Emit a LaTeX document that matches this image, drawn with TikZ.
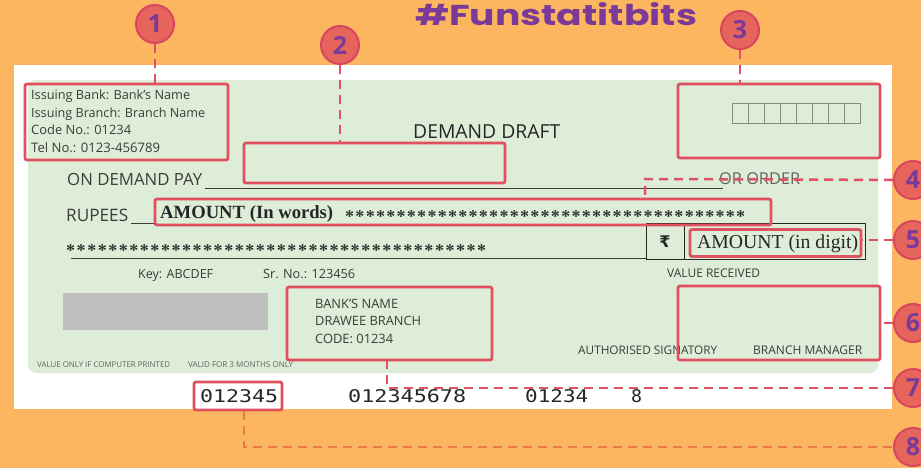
\documentclass[tikz,border=0pt]{standalone}
\usepackage{fontspec}
\usepackage{graphicx}
\setmainfont{Open Sans}
\newfontfamily\serf{Liberation Serif}
\newfontfamily\micr{DejaVu Sans Mono}
\newfontfamily\djv{DejaVu Sans}
\newfontfamily\pop{Poppins}
\newcommand\fw[2]{\resizebox{#1pt}{!}{#2}}
\newcommand\fwh[3]{\resizebox{#1pt}{#2pt}{#3}}
\definecolor{bgorange}{HTML}{FCB660}
\definecolor{chkgreen}{HTML}{DDEDD7}
\definecolor{redbx}{HTML}{E0505F}
\definecolor{connred}{HTML}{E25066}
\definecolor{connorange}{HTML}{EC7A48}
\definecolor{badgefill}{HTML}{E5645C}
\definecolor{badgering}{HTML}{D8465E}
\definecolor{purp}{HTML}{7B3A98}
\definecolor{inkgray}{HTML}{3C3C3C}
\definecolor{cellgray}{HTML}{7F8F7F}
\tikzset{
  txt/.style={inner sep=0pt, text=inkgray, anchor=base west},
  redbox/.style={draw=redbx, line width=2.8pt, rounded corners=2pt, inner sep=0pt},
  badge/.style={circle, fill=badgefill, draw=badgering, line width=2pt, minimum size=38pt, inner sep=0pt, text=purp, font=\fontsize{25}{25}\selectfont\bfseries},
  conn/.style={draw=connred, line width=2.5pt, dash pattern=on 9pt off 6pt},
  conneight/.style={draw=connorange, line width=2.5pt, dash pattern=on 9pt off 6pt},
  thinline/.style={draw=inkgray, line width=0.8pt},
  cell/.style={draw=cellgray, line width=0.8pt},
}
\begin{document}
\begin{tikzpicture}[x=1pt,y=-1pt]
\fill[bgorange] (0,0) rectangle (921,468);
\useasboundingbox (0,0) rectangle (921,468);
\clip (0,0) rectangle (921,468);
% cheque
\fill[white] (14,65) rectangle (892,409);
\fill[chkgreen, rounded corners=8pt] (28,80) rectangle (878,373);

% title
\node[inner sep=0pt, anchor=base west, text=purp] (title) at (415,26) {\fwh{282}{23}{\pop\bfseries\#Funstatitbits}};

% box 1 text
\node[txt] (i1) at (31,100) {\fw{159}{Issuing Bank: Bank's Name}};
\node[txt] (i2) at (31,118) {\fw{174}{Issuing Branch: Branch Name}};
\node[txt] (i3) at (31,135) {\fw{100}{Code No.: 01234}};
\node[txt] (i4) at (31,153) {\fw{129}{Tel No.: 0123-456789}};

\node[txt, text=black!85] (dd) at (413,139) {\fw{147}{DEMAND DRAFT}};

% date cells
\foreach \i in {0,...,7} \draw[cell] (732+\i*16,103) rectangle ++(16,20);

% pay line
\node[txt] (pay) at (67,185) {\fw{135}{ON DEMAND PAY}};
\coordinate (pl1) at (205,188);
\coordinate (pl2) at (723,188);
\draw[thinline] (pl1) -- (pl2);
\node[txt, text=inkgray!80] (ord) at (719,185) {\fw{81}{OR ORDER}};

% rupees
\node[txt] (rup) at (66,222) {\fw{62}{RUPEES}};
\coordinate (rl1) at (131,223);
\coordinate (rl2) at (157,223);
\draw[thinline] (rl1) -- (rl2);
\node[txt, text=black!85] (aw) at (160,218) {\fw{173}{\serf\bfseries AMOUNT (In words)}};
\node[txt, text=black!80] (ast1) at (345,222) {\hbox to 400pt{\fontsize{18}{18}\selectfont\serf\bfseries\foreach \i in {1,...,38}{*\hfil}*}};
\node[txt, text=black!80] (ast2) at (66,256) {\hbox to 420pt{\fontsize{18}{18}\selectfont\serf\bfseries\foreach \i in {1,...,39}{*\hfil}*}};
\coordinate (al1) at (71,258);
\coordinate (al2) at (646,258);
\draw[thinline] (al1) -- (al2);

% amount in digit box
\node[draw=black!85, line width=1pt, minimum width=219pt, minimum height=36pt, inner sep=0pt] (digbox) at (755.5,241) {};
\coordinate (dv1) at (684,223);
\coordinate (dv2) at (684,259);
\draw[draw=black!85, line width=1pt] (dv1) -- (dv2);
\node[inner sep=0pt, text=black!85] (rs) at (665,242) {\fontsize{16}{16}\selectfont\djv\bfseries ₹};
\node[txt, text=black!85] (ad) at (697,248) {\fw{161}{\serf AMOUNT (in digit)}};

% key line
\node[txt] (key) at (138,278) {\fw{75}{Key: ABCDEF}};
\node[txt] (sr) at (263,278) {\fw{92}{Sr. No.: 123456}};
\node[txt] (vr) at (667,277) {\fw{93}{VALUE RECEIVED}};

% gray block
\fill[black!25] (63,293) rectangle (268,330);

% drawee bank
\node[txt] (bn) at (315,308) {\fw{83}{BANK'S NAME}};
\node[txt] (db) at (315,325) {\fw{106}{DRAWEE BRANCH}};
\node[txt] (cd) at (315,343) {\fw{78}{CODE: 01234}};

\node[txt] (as) at (578,354) {\fw{139}{AUTHORISED SIGNATORY}};
\node[txt] (bm) at (753,354) {\fw{109}{BRANCH MANAGER}};

\node[txt, text=inkgray!80] (v1) at (37,367) {\fw{133}{VALUE ONLY IF COMPUTER PRINTED}};
\node[txt, text=inkgray!80] (v2) at (188,367) {\fw{105}{VALID FOR 3 MONTHS ONLY}};

% MICR
\node[txt, text=black!85] (m1) at (200,402) {\fwh{78}{13}{\micr 012345}};
\node[txt, text=black!85] (m2) at (348,402) {\fwh{118}{13}{\micr 012345678}};
\node[txt, text=black!85] (m3) at (525,402) {\fwh{63}{13}{\micr 01234}};
\node[txt, text=black!85] (m4) at (631,402) {\fwh{11}{13}{\micr 8}};

% red boxes
\node[redbox, minimum width=203pt, minimum height=76pt] (b1) at (126.5,122) {};
\node[redbox, minimum width=261pt, minimum height=40pt] (b2) at (374.5,163) {};
\node[redbox, minimum width=202pt, minimum height=74pt] (b3) at (779,121) {};
\node[redbox, minimum width=616pt, minimum height=26pt] (b4) at (463,212) {};
\node[redbox, minimum width=171pt, minimum height=27pt] (b5) at (775.5,243) {};
\node[redbox, minimum width=202pt, minimum height=74pt] (b6) at (779,323) {};
\node[redbox, minimum width=205pt, minimum height=73pt] (b7) at (389.5,323.5) {};
\node[redbox, minimum width=88pt, minimum height=28pt] (b8) at (238,396) {};

% badges
\node[badge] (c1) at (155,24) {1};
\node[badge] (c2) at (340,45) {2};
\node[badge] (c3) at (740,30) {3};
\node[badge] (c4) at (913,180) {4};
\node[badge] (c5) at (913,240) {5};
\node[badge] (c6) at (913,323) {6};
\node[badge] (c7) at (913,388) {7};
\node[badge] (c8) at (913,447) {8};

% connectors
\draw[conn] (c1) -- (c1 |- b1.north);
\draw[conn] (c2) -- (c2 |- b2.north);
\draw[conn] (c3) -- (c3 |- b3.north);
\coordinate (k4) at (645,179);
\draw[conn] (c4) -- (k4) -- (k4 |- b4.north);
\draw[conn] (c5) -- (c5 -| b5.east);
\draw[conn] (c6) -- (c6 -| b6.east);
\coordinate (k7) at (387,388);
\draw[conn] (c7) -- (k7) -- (k7 |- b7.south);
\coordinate (k8) at (244,447);
\draw[conneight] (k8 |- b8.south) -- (k8) -- (c8);
\end{tikzpicture}
\end{document}
